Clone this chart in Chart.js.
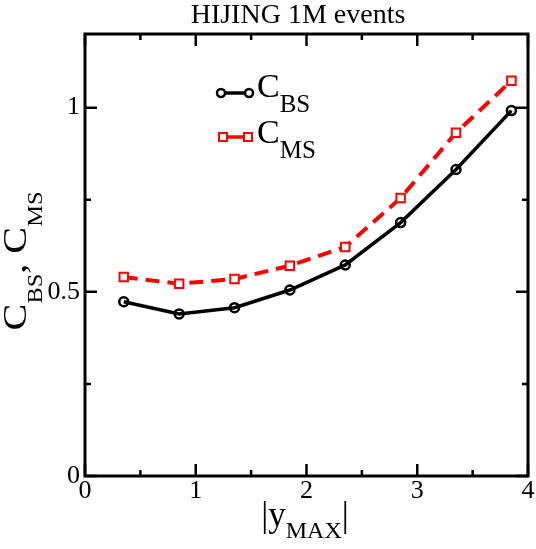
<!DOCTYPE html>
<html lang="en">
<head>
    <meta charset="UTF-8">
    <title>HIJING 1M events</title>
    <script src="https://cdn.jsdelivr.net/npm/chart.js"></script>
    <style>
        body { margin: 0; background: #fff; }
        #box { width: 536px; height: 549px; }
    </style>
</head>
<body>
    <div id="box"><canvas id="grafico" width="536" height="549"></canvas></div>

<script>
    // dados
    const yMax = [0.35, 0.85, 1.35, 1.85, 2.35, 2.85, 3.35, 3.85];
    const cBS = [0.473, 0.44, 0.457, 0.505, 0.573, 0.688, 0.832, 0.992];
    const cMS = [0.54, 0.522, 0.535, 0.571, 0.622, 0.755, 0.932, 1.073];

    const xTicks = [0, 1, 2, 3, 4];
    const xMinor = [0.5, 1.5, 2.5, 3.5];
    const yTicks = [0, 0.5, 1];
    const yMinor = [0.25, 0.75];

    const serif = '"Liberation Serif", "DejaVu Serif", serif';

    // texto com subscrito: partes [texto, tamanho, deslocamento]
    function largura(ctx, partes) {
        let w = 0;
        partes.forEach(p => {
            ctx.font = p[1] + 'px ' + serif;
            w += ctx.measureText(p[0]).width;
        });
        return w;
    }

    function escreve(ctx, partes, x, y) {
        partes.forEach(p => {
            ctx.font = p[1] + 'px ' + serif;
            ctx.fillText(p[0], x, y + p[2]);
            x += ctx.measureText(p[0]).width;
        });
    }

    const moldura = {
        id: 'moldura',
        afterDraw(chart) {
            const ctx = chart.ctx;
            const a = chart.chartArea;
            const sx = chart.scales.x;
            const sy = chart.scales.y;
            ctx.save();
            ctx.strokeStyle = '#000';
            ctx.fillStyle = '#000';

            // ticks para dentro
            ctx.lineWidth = 2.5;
            ctx.beginPath();
            const tx = (v, len) => {
                const p = sx.getPixelForValue(v);
                ctx.moveTo(p, a.bottom); ctx.lineTo(p, a.bottom - len);
                ctx.moveTo(p, a.top); ctx.lineTo(p, a.top + len);
            };
            const ty = (v, len) => {
                const p = sy.getPixelForValue(v);
                ctx.moveTo(a.left, p); ctx.lineTo(a.left + len, p);
                ctx.moveTo(a.right, p); ctx.lineTo(a.right - len, p);
            };
            xTicks.forEach(v => tx(v, 12));
            xMinor.forEach(v => tx(v, 6));
            yTicks.forEach(v => ty(v, 12));
            yMinor.forEach(v => ty(v, 6));
            ctx.stroke();

            ctx.lineWidth = 3;
            ctx.strokeRect(a.left, a.top, a.right - a.left, a.bottom - a.top);

            // titulo
            ctx.textAlign = 'center';
            ctx.textBaseline = 'alphabetic';
            ctx.font = '28px ' + serif;
            ctx.fillText('HIJING 1M events', 298, 23);

            // eixo x
            ctx.textAlign = 'left';
            const px = [['|', 35, 0], ['y', 35, 0], ['MAX', 24, 12], ['|', 35, 0]];
            escreve(ctx, px, 305 - largura(ctx, px) / 2, 526);

            // eixo y (texto um pouco esticado no comprimento, como na figura)
            const py = [['C', 33, 0], ['BS', 20, 16], [', ', 33, 0], ['C', 33, 0], ['MS', 20, 16]];
            ctx.save();
            ctx.translate(26, 261);
            ctx.rotate(-Math.PI / 2);
            ctx.scale(1.22, 1);
            escreve(ctx, py, -largura(ctx, py) / 2, 0);
            ctx.restore();

            // legenda
            ctx.lineWidth = 3.5;
            ctx.beginPath();
            ctx.moveTo(221, 93); ctx.lineTo(249, 93);
            ctx.stroke();
            ctx.lineWidth = 2.5;
            [221, 249].forEach(x => {
                ctx.beginPath();
                ctx.arc(x, 93, 4, 0, Math.PI * 2);
                ctx.fillStyle = '#fff';
                ctx.fill();
                ctx.stroke();
            });
            ctx.strokeStyle = '#ff0000';
            ctx.lineWidth = 3.5;
            ctx.beginPath();
            ctx.moveTo(223, 137); ctx.lineTo(248, 137);
            ctx.stroke();
            ctx.lineWidth = 2;
            [223, 248].forEach(x => {
                ctx.fillStyle = '#fff';
                ctx.fillRect(x - 4, 133, 8, 8);
                ctx.strokeRect(x - 4, 133, 8, 8);
            });
            ctx.fillStyle = '#000';
            escreve(ctx, [['C', 34, 0], ['BS', 25, 15]], 257, 97);
            escreve(ctx, [['C', 34, 0], ['MS', 25, 15]], 257, 143);

            ctx.restore();
        }
    };

    const ctx = document.getElementById('grafico').getContext('2d');

    new Chart(ctx, {
        type: 'line',
        data: {
            datasets: [
                {
                    label: 'C_MS',
                    data: yMax.map((x, i) => ({ x: x, y: cMS[i] })),
                    borderColor: '#ff0000',
                    borderWidth: 4,
                    borderDash: [14, 8],
                    pointStyle: 'rect',
                    pointRadius: 6,
                    pointBorderWidth: 2,
                    pointBorderColor: '#ff0000',
                    pointBackgroundColor: '#fff',
                    tension: 0
                },
                {
                    label: 'C_BS',
                    data: yMax.map((x, i) => ({ x: x, y: cBS[i] })),
                    borderColor: '#000',
                    borderWidth: 3.5,
                    pointStyle: 'circle',
                    pointRadius: 4.5,
                    pointBorderWidth: 2.5,
                    pointBorderColor: '#000',
                    pointBackgroundColor: 'rgba(0,0,0,0)',
                    tension: 0
                }
            ]
        },
        options: {
            responsive: false,
            animation: false,
            layout: { padding: { top: 34, right: 8, left: 0, bottom: 0 } },
            plugins: {
                legend: { display: false },
                title: { display: false },
                tooltip: { enabled: false }
            },
            scales: {
                x: {
                    type: 'linear',
                    min: 0,
                    max: 4,
                    afterBuildTicks: s => { s.ticks = xTicks.map(v => ({ value: v })); },
                    afterFit: s => { s.height = 73; },
                    grid: { display: false, drawTicks: false },
                    border: { display: false },
                    ticks: {
                        padding: 0,
                        color: '#000',
                        maxRotation: 0,
                        callback: v => String(v),
                        font: { family: serif, size: 26 }
                    }
                },
                y: {
                    min: 0,
                    max: 1.2,
                    afterBuildTicks: s => { s.ticks = yTicks.map(v => ({ value: v })); },
                    afterFit: s => { s.width = 85; },
                    grid: { display: false, drawTicks: false },
                    border: { display: false },
                    ticks: {
                        padding: 5,
                        color: '#000',
                        callback: v => String(v),
                        font: { family: serif, size: 26 }
                    }
                }
            }
        },
        plugins: [moldura]
    });
</script>
</body>
</html>
